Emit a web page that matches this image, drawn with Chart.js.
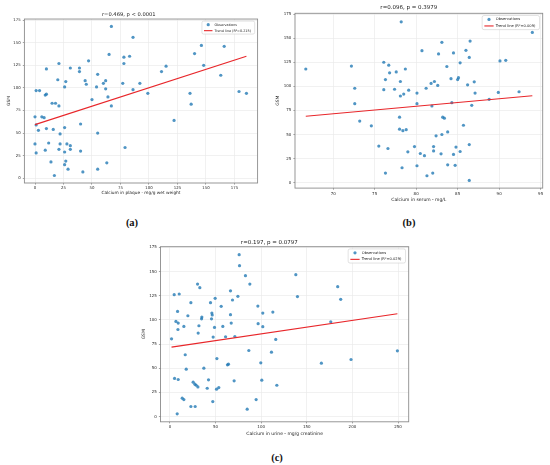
<!DOCTYPE html>
<html>
<head>
<meta charset="utf-8">
<script src="https://cdn.jsdelivr.net/npm/chart.js@4.4.0/dist/chart.umd.min.js"></script>
<style>
  body { margin: 0; background: #fff; width: 550px; height: 465px; position: relative; overflow: hidden; }
  .panel { position: absolute; }
  .cap { position: absolute; font-family: "Liberation Serif", serif; font-weight: bold; font-size: 10.5px; color: #111; transform: translate(-50%, -50%); }
</style>
</head>
<body>
<div class="panel" style="left:0;top:0;width:270px;height:200px"><canvas id="plaqueCanvas"></canvas></div>
<div class="panel" style="left:275px;top:0;width:275px;height:210px"><canvas id="serumCanvas"></canvas></div>
<div class="panel" style="left:130px;top:232px;width:290px;height:210px"><canvas id="urineCanvas"></canvas></div>
<div class="cap" style="left:132px;top:222px">(a)</div>
<div class="cap" style="left:409px;top:222px">(b)</div>
<div class="cap" style="left:277px;top:457px">(c)</div>
<script>
// shared y axis
const gsmTicks = [0, 25, 50, 75, 100, 125, 150, 175];

// (a) calcium in plaque
const plaqueTitle = 'r=0.469, p < 0.0001';
const plaqueLabel = 'Calcium in plaque - mg/g wet weight';
const plaqueTrendLabel = 'Trend line (R²=0.215)';
const plaqueTicks = [0, 25, 50, 75, 100, 125, 150, 175];
const plaqueCa = [67, 86, 65, 78, 83, 78, 47, 21, 10, 31, 39, 39, 20, 27, 44, 45, 26, 55, 54, 62,
  60, 62, 64, 50, 67, 77, 86, 92, 99, 1, 4, 9, 10, 15, 18, 21, 0, 6, 8, 1,
  10, 3, 16, 26, 40, 22, 0, 12, 22, 28, 31, 31, 21, 9, 1, 26, 40, 14, 27, 26,
  29, 17, 42, 55, 63, 55, 79, 146, 166, 140, 115, 111, 148, 163, 136, 137, 122, 179, 185.5];
const plaqueGsm = [168, 156, 137, 134, 135, 127, 130, 127, 121, 122, 122, 118, 109, 107, 108, 104, 101, 115, 101, 108,
  105, 99, 90, 87, 80, 105, 98, 105, 94, 97, 97, 92, 93, 83, 83, 80, 68, 68, 67, 59,
  55, 53, 54, 56, 60, 49, 38, 39, 38, 38, 36, 32, 32, 31, 28, 29, 30, 18, 19, 15,
  10, 3, 7, 10, 17, 50, 34, 147, 146, 138, 124, 118, 125, 114, 94, 82, 64, 96, 94];
const plaqueTrendCa = [0, 185.5];
const plaqueTrendGsm = [59.3, 134.9];

// (b) calcium in serum
const serumTitle = 'r=0.096, p = 0.3979';
const serumLabel = 'Calcium in serum - mg/L';
const serumTrendLabel = 'Trend line (R²=0.009)';
const serumTicks = [70, 75, 80, 85, 90, 95];
const serumCa = [66.7, 72.2, 72.6, 72.6, 73.2, 74.6, 75.5, 76.6, 76.3, 76.1, 76.7, 76.8, 76.3, 76.1, 77.4, 77.6, 78.2, 78.7, 78.1, 78.1,
  78.5, 79.1, 78.0, 78.0, 78.8, 78.4, 79.0, 78.3, 79.8, 80.1, 80.5, 81.0, 81.3, 82.0, 80.1, 80.1, 80.7, 81.2, 81.8, 82.2,
  81.9, 82.1, 82.1, 82.6, 82.7, 83.1, 82.4, 83.1, 83.2, 83.4, 83.8, 83.0, 83.8, 83.7, 84.2, 84.3, 84.5, 84.5, 84.7, 84.8,
  85.0, 85.1, 85.3, 85.3, 85.7, 86.0, 86.2, 86.5, 86.4, 86.4, 86.4, 87.0, 86.7, 87.1, 88.8, 89.9, 90.1, 90.8, 92.4, 94.0];
const serumGsm = [118, 121, 98, 82, 64, 59, 38, 35.5, 10, 125, 122, 114, 107, 96.5, 97, 115, 167, 118, 105, 90,
  92, 96, 68, 55.5, 55, 54, 32, 15.5, 37.5, 17.6, 30.3, 28, 7.2, 10, 93, 82, 137, 98, 103, 105,
  79.6, 37.5, 33, 101, 133.6, 145.7, 48.6, 50, 68, 67, 52.7, 30, 18.6, 120.6, 108, 83, 134.7, 29.3, 18, 37,
  107, 109, 124.4, 32.4, 59.6, 137.4, 101.6, 147, 130, 39.6, 2.4, 104.7, 80.3, 93, 86.5, 93.7, 126.4, 127, 94.4, 156];
const serumTrendCa = [66.7, 94.0];
const serumTrendGsm = [69, 90.2];

// (c) calcium in urine
const urineTitle = 'r=0.197, p = 0.0797';
const urineLabel = 'Calcium in urine - mg/g creatinine';
const urineTrendLabel = 'Trend line (R²=0.029)';
const urineTicks = [0, 50, 100, 150, 200, 250];
const urineCa = [75.9, 76.3, 82.8, 87.6, 30.3, 32.8, 4.7, 10.2, 74.5, 66.4, 68.6, 49.6, 23, 44.5, 56.2, 96.4, 138, 139.8, 183.9, 187.2,
  8.4, 46, 46.4, 66.4, 101.8, 112.8, 19.7, 35, 34.7, 45.6, 6.6, 9.1, 67.2, 96.7, 176.3, 15.3, 31.8, 58, 101.8, 48.9,
  8.8, 31, 47.4, 61, 71.2, 1.8, 116, 86.5, 111.3, 249.3, 16.8, 51.5, 198.5, 99.6, 166, 63.1, 64.2, 17.9, 37.2, 5.1,
  9.1, 42.3, 70.4, 100.7, 117.2, 25.5, 27.4, 28.8, 30.7, 40.9, 53.6, 51.1, 13.5, 15.3, 47, 94.5, 23, 27.7, 84.7, 8];
const urineGsm = [167.4, 156, 145.7, 137, 137, 133.2, 126, 126.7, 124.3, 130, 120.5, 122.2, 117.7, 117.7, 114, 114.2, 146.7, 124, 134.3, 121.2,
  108.7, 107, 105, 105.3, 107, 108, 104.2, 102.9, 101, 101, 98.4, 96.7, 96.7, 96, 98, 93.2, 93.9, 93.2, 92.9, 92.2,
  90, 86.3, 82.2, 82.5, 82.8, 80.4, 79.7, 68.3, 66.6, 68, 63.9, 60, 59, 55.6, 55.2, 53.5, 54.2, 49, 50, 39.4,
  38.3, 38, 37, 37.6, 32.4, 35.6, 33.5, 32.4, 30.7, 29.3, 30, 28.3, 19, 17.6, 15.5, 17.6, 10.4, 10.4, 7.6, 2.8];
const urineTrendCa = [1.8, 249.3];
const urineTrendGsm = [71.8, 106.3];

Chart.defaults.font.family = '"DejaVu Sans", sans-serif';
Chart.defaults.color = '#2a2a2a';
Chart.defaults.animation = false;

const toPoints = (xs, ys) => xs.map((v, i) => ({ x: v, y: ys[i] }));

// matplotlib-like box around the axes
const framePlugin = {
    id: 'frame',
    afterDatasetsDraw(chart) {
        const { ctx, chartArea: a } = chart;
        ctx.save();
        ctx.strokeStyle = '#8c8c8c';
        ctx.lineWidth = 0.9;
        ctx.strokeRect(a.left, a.top, a.right - a.left, a.bottom - a.top);
        ctx.restore();
    }
};

// legend box drawn inside the top-right corner of the plot
const insideLegend = {
    id: 'insideLegend',
    afterDraw(chart, args, opts) {
        const { ctx, chartArea: a } = chart;
        const fs = opts.fontSize;
        const items = chart.data.datasets.slice().sort((p, q) => q.order - p.order);
        ctx.save();
        ctx.font = fs + 'px "DejaVu Sans"';
        const textW = Math.max(...items.map(d => ctx.measureText(d.label).width));
        const pad = fs * 0.6, handle = fs * 2.5, gap = fs * 0.6, row = fs * 1.76;
        const w = pad + handle + gap + textW + fs * 1.1;
        const h = fs * 3.82;
        const x0 = a.right - fs * 0.85 - w;
        const y0 = a.top + fs * 0.6;
        ctx.beginPath();
        ctx.roundRect(x0, y0, w, h, fs * 0.5);
        ctx.fillStyle = 'rgba(255,255,255,0.85)';
        ctx.fill();
        ctx.strokeStyle = '#cfcfcf';
        ctx.lineWidth = 0.6;
        ctx.stroke();
        items.forEach((d, i) => {
            const cy = y0 + fs * 1.06 + i * row;
            const hx = x0 + pad;
            if (d.type === 'line') {
                ctx.strokeStyle = d.borderColor;
                ctx.lineWidth = d.borderWidth;
                ctx.beginPath();
                ctx.moveTo(hx, cy);
                ctx.lineTo(hx + handle, cy);
                ctx.stroke();
            } else {
                ctx.fillStyle = d.backgroundColor;
                ctx.beginPath();
                ctx.arc(hx + handle / 2, cy, d.pointRadius, 0, Math.PI * 2);
                ctx.fill();
            }
            ctx.fillStyle = '#222';
            ctx.textBaseline = 'middle';
            ctx.textAlign = 'left';
            ctx.fillText(d.label, hx + handle + gap, cy);
        });
        ctx.restore();
    }
};

function makePanel(id, cfg) {
    const ctx = document.getElementById(id);
    return new Chart(ctx, {
        type: 'scatter',
        data: {
            datasets: [
                {
                    label: 'Observations',
                    data: toPoints(cfg.xs, cfg.ys),
                    backgroundColor: 'rgba(31,119,180,0.78)',
                    borderWidth: 0,
                    pointRadius: 1.6,
                    order: 1
                },
                {
                    label: cfg.trendLabel,
                    type: 'line',
                    data: toPoints(cfg.tx, cfg.ty),
                    borderColor: '#e8262a',
                    borderWidth: 1.1,
                    pointRadius: 0,
                    fill: false,
                    order: 0
                }
            ]
        },
        options: {
            responsive: true,
            maintainAspectRatio: false,
            layout: { padding: cfg.pad },
            plugins: {
                legend: { display: false },
                tooltip: { enabled: false },
                title: {
                    display: true,
                    text: cfg.title,
                    color: '#222',
                    font: { size: cfg.titleSize, weight: 'normal' },
                    padding: { top: 0, bottom: cfg.titleGap }
                },
                insideLegend: { fontSize: cfg.legendSize }
            },
            scales: {
                x: {
                    type: 'linear',
                    bounds: 'data',
                    min: cfg.xMin,
                    max: cfg.xMax,
                    afterBuildTicks: s => { s.ticks = cfg.xTicks.map(v => ({ value: v })); },
                    afterFit: s => { s.height = cfg.xBox; },
                    ticks: { font: { size: cfg.tickSize }, padding: cfg.xTickPad, maxRotation: 0, autoSkip: false, callback: v => String(v) },
                    grid: { color: '#e8e8e8', lineWidth: 0.6, tickLength: 1.6, tickColor: '#666', tickWidth: 0.6 },
                    border: { display: false },
                    title: { display: true, text: cfg.xLabel, color: '#222', font: { size: cfg.labelSize }, padding: { top: 0, bottom: 0 } }
                },
                y: {
                    type: 'linear',
                    bounds: 'data',
                    min: cfg.yMin,
                    max: cfg.yMax,
                    afterBuildTicks: s => { s.ticks = gsmTicks.map(v => ({ value: v })); },
                    afterFit: s => { s.width = cfg.yBox; },
                    ticks: { font: { size: cfg.tickSize }, padding: 2, callback: v => String(v) },
                    grid: { color: '#e8e8e8', lineWidth: 0.6, tickLength: 1.6, tickColor: '#666', tickWidth: 0.6 },
                    border: { display: false },
                    title: { display: true, text: 'GSM', color: '#222', font: { size: cfg.labelSize }, padding: { top: cfg.yTitlePad, bottom: 0 } }
                }
            }
        },
        plugins: [framePlugin, insideLegend]
    });
}

document.addEventListener('DOMContentLoaded', () => {
    makePanel('plaqueCanvas', {
        xs: plaqueCa, ys: plaqueGsm, tx: plaqueTrendCa, ty: plaqueTrendGsm,
        title: plaqueTitle, xLabel: plaqueLabel, trendLabel: plaqueTrendLabel, xTicks: plaqueTicks,
        xMin: -9.3, xMax: 195.3, yMin: -5.3, yMax: 176.2,
        pad: { left: 0, top: 11.2, right: 12.4, bottom: 4.4 },
        titleSize: 5.2, titleGap: 1.6, labelSize: 4.3, tickSize: 3.9, legendSize: 3.4,
        xBox: 12.6, xTickPad: 1.5, yBox: 24.4, yTitlePad: 6.7
    });
    makePanel('serumCanvas', {
        xs: serumCa, ys: serumGsm, tx: serumTrendCa, ty: serumTrendGsm,
        title: serumTitle, xLabel: serumLabel, trendLabel: serumTrendLabel, xTicks: serumTicks,
        xMin: 65.4, xMax: 95.25, yMin: -5.6, yMax: 175.8,
        pad: { left: 0, top: 3.9, right: 7.3, bottom: 7 },
        titleSize: 5.5, titleGap: 2.8, labelSize: 4.5, tickSize: 4, legendSize: 3.7,
        xBox: 14.9, xTickPad: 1.9, yBox: 20, yTitlePad: 0.6
    });
    makePanel('urineCanvas', {
        xs: urineCa, ys: urineGsm, tx: urineTrendCa, ty: urineTrendGsm,
        title: urineTitle, xLabel: urineLabel, trendLabel: urineTrendLabel, xTicks: urineTicks,
        xMin: -10.3, xMax: 261.7, yMin: -5.4, yMax: 175.6,
        pad: { left: 0, top: 7.4, right: 11.3, bottom: 5.6 },
        titleSize: 5.5, titleGap: 0.7, labelSize: 4.5, tickSize: 4, legendSize: 3.7,
        xBox: 14.6, xTickPad: 0.9, yBox: 30.5, yTitlePad: 11.3
    });
});
</script>
</body>
</html>
